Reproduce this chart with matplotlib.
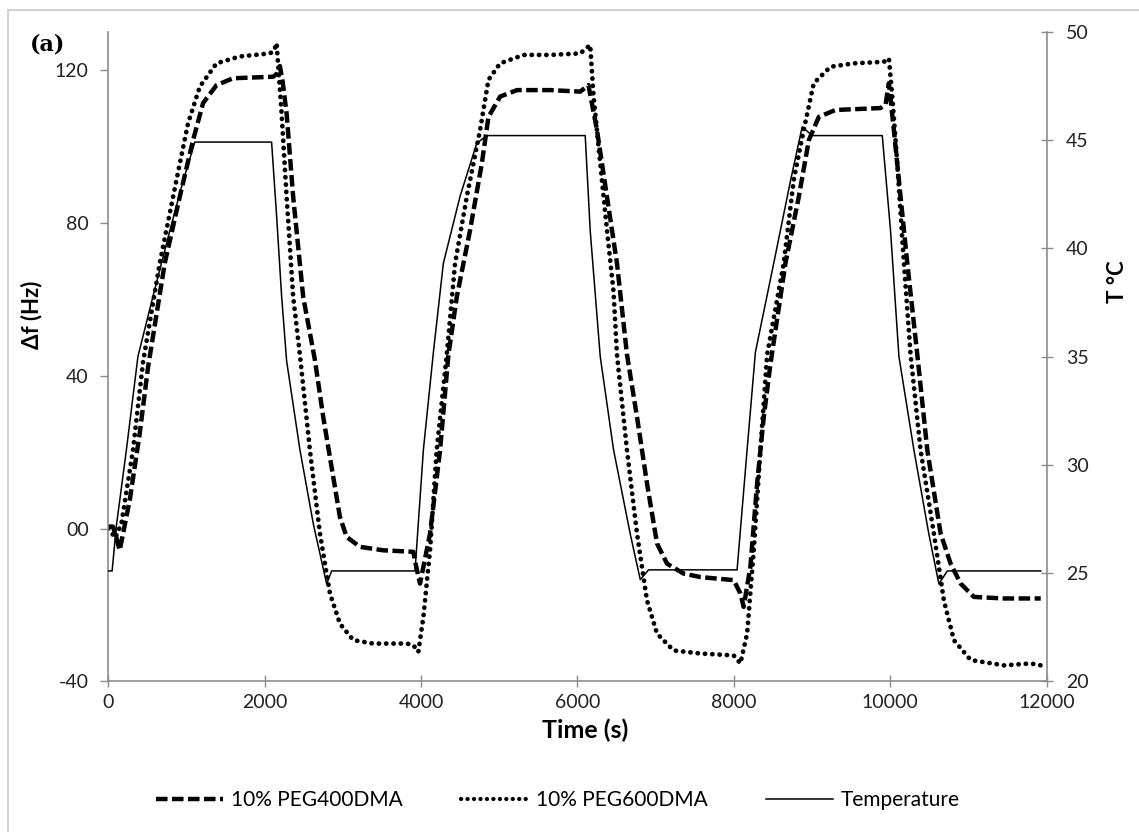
import numpy as np
import matplotlib.pyplot as plt
from matplotlib.lines import Line2D
from matplotlib.patches import Rectangle

# temperature (right axis, degC)
temp_t = [0, 50, 105, 233, 380, 574, 787, 958, 1107, 2089, 2153, 2217, 2281, 2451, 2621, 2793, 2857,
          3923, 4030, 4158, 4285, 4499, 4713, 4841, 6099, 6163, 6291, 6461, 6675, 6803, 6909,
          8041, 8169, 8275, 8509, 8723, 8873, 9001, 9897, 10003, 10110, 10301, 10493, 10621, 10729, 11923]
temp_v = [25.1, 25.1, 27.2, 30.7, 35.0, 37.8, 40.8, 43.1, 44.9, 44.9, 41.5, 37.8, 34.8, 30.7, 27.3, 24.5, 25.1,
          25.1, 30.7, 35.2, 39.3, 42.4, 44.85, 45.2, 45.2, 40.8, 35.0, 30.7, 26.8, 24.7, 25.15,
          25.15, 30.7, 35.2, 39.3, 43.1, 45.6, 45.2, 45.2, 40.8, 35.0, 30.7, 26.8, 24.5, 25.1, 25.1]

# 10% PEG400DMA (left axis, Hz)
peg400_t = [0, 60, 100, 147, 275, 403, 510, 723, 915, 1085, 1213, 1385, 1597, 2109, 2160, 2195, 2230,
            2281, 2365, 2493, 2643, 2749, 2877, 2963, 3049, 3219, 3517, 3901, 3930, 3987,
            4115, 4243, 4350, 4457, 4627, 4777, 4862, 5011, 5227, 5651, 6035, 6140,
            6249, 6377, 6505, 6633, 6761, 6889, 7017, 7145, 7357, 7571, 7997, 8083, 8125,
            8211, 8297, 8382, 8467, 8659, 8830, 8958, 9086, 9299, 9875, 9940, 9982,
            10045, 10131, 10217, 10345, 10473, 10643, 10771, 10899, 11069, 11453, 11923]
peg400_v = [0.5, 0.5, -2, -5.7, 7.4, 24.9, 42.3, 69.4, 86.8, 101.6, 111.3, 116.0, 117.8, 118.2, 119, 121, 117,
            108.6, 86.8, 60.6, 44.1, 29.2, 13.5, 3.0, -2.2, -4.8, -5.7, -6.1, -9.2, -14.4,
            -1.3, 20.5, 45.5, 60.6, 78.1, 95.5, 107.7, 113, 114.7, 114.7, 114.3, 116,
            104.3, 86.8, 69.4, 45.5, 29.2, 11.8, -3.9, -9.2, -11.8, -12.7, -13.5, -17, -20.5,
            -10, 11.8, 29.2, 43, 69.4, 86.8, 101.6, 107.7, 109.5, 110, 111, 116.5,
            104.3, 86.8, 69.4, 45.5, 20.5, -1.3, -9.2, -14.4, -17.9, -18.3, -18.3]

# 10% PEG600DMA (left axis, Hz)
peg600_t = [0, 40, 90, 169, 317, 445, 659, 873, 1021, 1171, 1385, 1683, 2067, 2120, 2153,
            2217, 2281, 2365, 2451, 2579, 2707, 2835, 2963, 3133, 3389, 3817, 3901, 3965,
            4030, 4115, 4200, 4329, 4435, 4585, 4755, 4862, 5011, 5310, 5651, 6035, 6163,
            6206, 6291, 6377, 6461, 6505, 6633, 6761, 6889, 7017, 7229, 7571, 7997, 8083,
            8169, 8254, 8339, 8425, 8637, 8765, 8893, 9021, 9235, 9533, 9917, 9982,
            10025, 10089, 10174, 10259, 10387, 10557, 10685, 10813, 11027, 11453, 11795, 11923]
peg600_v = [0, -1, -2.5, 1.3, 20.5, 43.5, 69.4, 91.2, 106, 115.6, 121.7, 123.5, 124.3, 125, 127,
            108.6, 86.8, 60.6, 45.5, 20.5, -1.3, -17, -24.9, -29.2, -30.1, -30.1, -30.5, -32.3,
            -23.1, -5.7, 20.5, 45.5, 69.4, 86.8, 104.3, 117.4, 121.7, 123.9, 123.9, 124.3, 126.5,
            113, 95.5, 78.1, 62, 45.5, 20.5, -1.3, -18.8, -27.5, -31.9, -32.7, -33.2, -35.3,
            -27.5, -5.7, 20.5, 45.5, 69.4, 91.2, 104.3, 116.5, 120.8, 121.7, 122.1, 123,
            113, 95.5, 69.4, 45.5, 20.5, -1.3, -18.8, -29.2, -34.4, -35.8, -35.3, -35.8]

x_ticks = [0, 2000, 4000, 6000, 8000, 10000, 12000]
left_ticks = [-40, 0, 40, 80, 120]
left_labels = ['-40', '00', '40', '80', '120']
right_ticks = [20, 25, 30, 35, 40, 45, 50]

plt.rcParams['font.family'] = ['Lato', 'DejaVu Sans']

fig = plt.figure(figsize=(11.39, 8.32), dpi=100)
ax = fig.add_axes([0.095, 0.181, 0.824, 0.781])
ax2 = ax.twinx()

axis_grey = '#8c8c8c'

dash_style = (0, (2.6, 1.0))
dot_style = (0, (0.05, 1.5))

l1, = ax.plot(peg400_t, peg400_v, color='black', lw=3.2, linestyle=dash_style, dash_capstyle='butt')
l2, = ax.plot(peg600_t, peg600_v, color='black', lw=3.4, linestyle=dot_style, dash_capstyle='round')
l3, = ax2.plot(temp_t, temp_v, color='black', lw=1.1)

ax.set_xlim(0, 12000)
ax.set_ylim(-40, 130)
ax2.set_ylim(20, 50)
ax.set_xticks(x_ticks)
ax.set_yticks(left_ticks)
ax.set_yticklabels(left_labels)
ax2.set_yticks(right_ticks)

for a in (ax, ax2):
    a.spines['top'].set_visible(False)
    for s in ('left', 'right', 'bottom'):
        a.spines[s].set_color(axis_grey)
        a.spines[s].set_linewidth(1.2)
ax.spines['right'].set_visible(False)
ax2.spines['left'].set_visible(False)
ax2.spines['bottom'].set_visible(False)

ax.tick_params(axis='x', direction='inout', length=8, width=1, color=axis_grey,
               labelsize=14, labelcolor='#222222', pad=5)
ax.tick_params(axis='y', direction='out', length=6, width=1, color=axis_grey,
               labelsize=14, labelcolor='#222222', pad=8)
ax2.tick_params(axis='y', direction='inout', length=8, width=1, color=axis_grey,
                labelsize=14, labelcolor='#222222', pad=10)

fig.text(32 / 1139, 1 - 315 / 832, '\u0394f (Hz)', rotation=90, ha='center', va='center',
         fontsize=16, fontweight='bold')
fig.text(1118 / 1139, 1 - 282 / 832, 'T \u00b0C', rotation=90, ha='center', va='center',
         fontsize=16, fontweight='bold')
fig.text(585 / 1139, 1 - 730 / 832, 'Time (s)', ha='center', va='center',
         fontsize=18, fontweight='bold')
fig.text(48 / 1139, 1 - 44 / 832, '(a)', ha='center', va='center', fontsize=16,
         fontweight='bold', family='DejaVu Serif')

# chart frame
fig.patches.append(Rectangle((8 / 1139, -0.05), 1.1, 1 - 10 / 832 + 0.05, transform=fig.transFigure,
                             fill=False, edgecolor='#c8c8c8', linewidth=1.2))

handles = [Line2D([], [], color='black', lw=3.2, linestyle=dash_style),
           Line2D([], [], color='black', lw=3.0, linestyle=dot_style, dash_capstyle='round'),
           Line2D([], [], color='black', lw=1.1)]
fig.legend(handles, ['10% PEG400DMA', '10% PEG600DMA', 'Temperature'], loc='center',
           bbox_to_anchor=(0.49, 0.038), ncol=3, frameon=False, fontsize=15,
           handlelength=3.2, columnspacing=2.8, handletextpad=0.4)

fig.savefig('out.png', dpi=100)
